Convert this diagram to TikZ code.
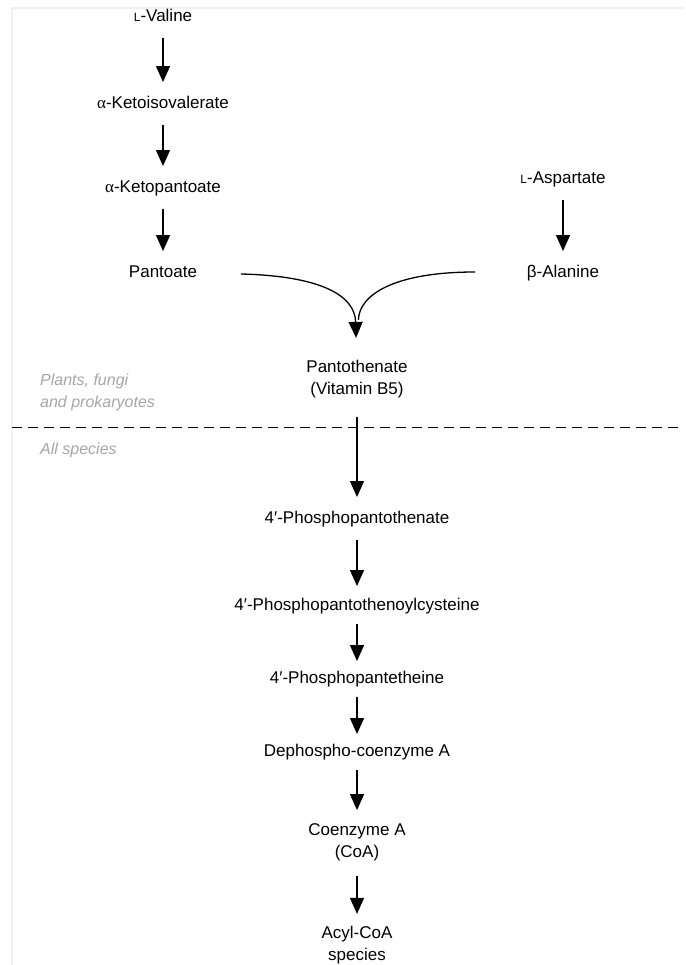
\documentclass[tikz,border=0pt]{standalone}
\usepackage{fontspec}
\setmainfont{Liberation Sans}
\newfontfamily\greekfont{Liberation Serif}
\usetikzlibrary{arrows.meta}
\newcommand{\smallL}{{\fontsize{12}{12}\selectfont L}}
\newcommand{\galpha}{{\greekfont α}}
\tikzset{
  cpd/.style={font=\fontsize{17}{22}\selectfont, inner sep=0pt, text height=12pt, text depth=3.5pt},
  cpdtwo/.style={font=\fontsize{17}{22}\selectfont, inner sep=0pt, align=center},
  conv/.style={-{Triangle[width=14pt,length=16pt]}, line width=1.3pt, shorten <=13pt, shorten >=14pt},
  taxon/.style={font=\fontsize{16}{22}\selectfont\itshape, text=black!35, align=left, anchor=west, inner sep=0pt}
}
\begin{document}
\begin{tikzpicture}[x=1pt, y=-1pt]
    \useasboundingbox (0,0) rectangle (685,965);
    \draw[black!6, line width=2.5pt] (12,965) -- (12,8) -- (684,8);
    % upper branch
    \node[cpd] (val) at (163, 17) {\smallL-Valine};
    \node[cpd] (kiv) at (163, 104) {\galpha-Ketoisovalerate};
    \node[cpd] (kp) at (163, 188) {\galpha-Ketopantoate};
    \node[cpd] (pa) at (163, 273) {Pantoate};
    \node[cpd] (asp) at (563, 179) {\smallL-Aspartate};
    \node[cpd] (ala) at (563, 273) {β-Alanine};
    \node[cpdtwo] (pth) at (357, 379) {Pantothenate\\(Vitamin B5)};
    \draw[conv] (val) -- (kiv);
    \draw[conv] (kiv) -- (kp);
    \draw[conv] (kp) -- (pa);
    \draw[conv] (asp) -- (ala);
    \coordinate (pl) at (241, 274);
    \coordinate (pr) at (475, 272);
    \draw[conv, shorten <=0pt, shorten >=22pt] (pl) .. controls (320, 276) and (355, 295) .. (pth);
    \draw[line width=1.3pt, shorten >=40pt] (pr) .. controls (394, 272) and (359, 295) .. (pth);
    % divider
    \node[taxon] (plants) at (40, 392) {Plants, fungi\\and prokaryotes};
    \node[taxon] (all) at (40, 450) {All species};
    \draw[line width=1pt, dash pattern=on 10pt off 6pt] (12, 427) -- (681, 427);
    % lower branch
    \node[cpd] (ppt) at (357, 519) {4′-Phosphopantothenate};
    \node[cpd] (ppc) at (357, 606) {4′-Phosphopantothenoylcysteine};
    \node[cpd] (pph) at (357, 679) {4′-Phosphopantetheine};
    \node[cpd] (dpc) at (357, 752) {Dephospho-coenzyme A};
    \node[cpdtwo] (coa) at (357, 842) {Coenzyme A\\(CoA)};
    \node[cpdtwo] (acy) at (357, 945) {Acyl-CoA\\species};
    \draw[conv, shorten <=19pt, shorten >=14pt] (pth) -- (ppt);
    \draw[conv, shorten <=13pt, shorten >=12pt] (ppt) -- (ppc);
    \draw[conv, shorten <=10pt, shorten >=10pt] (ppc) -- (pph);
    \draw[conv, shorten <=10pt, shorten >=10pt] (pph) -- (dpc);
    \draw[conv, shorten <=10pt, shorten >=13pt] (dpc) -- (coa);
    \draw[conv, shorten <=15pt, shorten >=12pt] (coa) -- (acy);
\end{tikzpicture}
\end{document}
